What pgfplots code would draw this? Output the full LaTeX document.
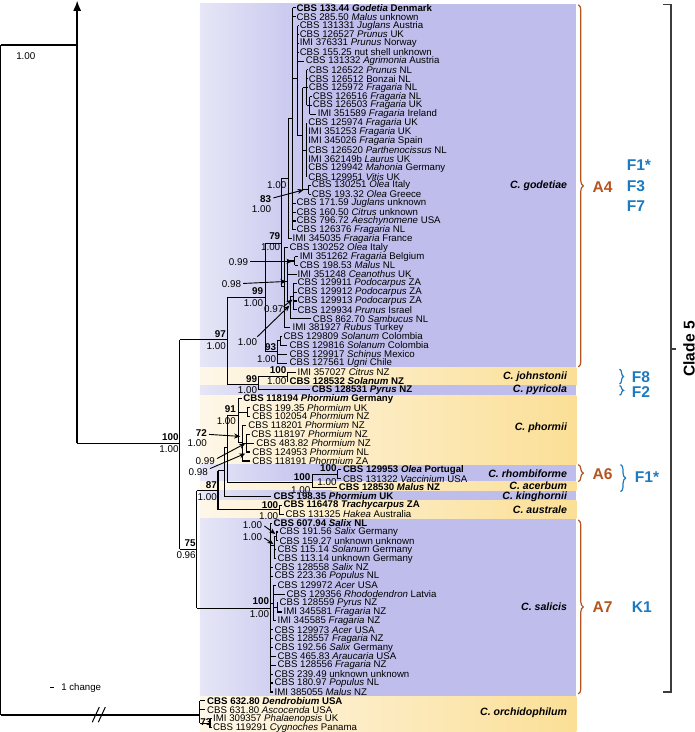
\documentclass[border=0pt]{standalone}
\usepackage{fontspec}
\setmainfont{Liberation Sans}
\usepackage{pgfplots}
\pgfplotsset{compat=1.18}
\usetikzlibrary{arrows.meta,decorations.pathreplacing}
\definecolor{pl}{RGB}{230,230,247}
\definecolor{pr}{RGB}{190,189,236}
\definecolor{yl}{RGB}{254,247,232}
\definecolor{yr}{RGB}{251,223,150}
\definecolor{brn}{RGB}{180,84,30}
\definecolor{blu}{RGB}{30,122,192}
\definecolor{clk}{RGB}{60,60,60}
\tikzset{
 taxon/.style={anchor=west,inner sep=0pt,font=\fontsize{9.6}{10}\selectfont},
 supb/.style={anchor=east,inner sep=0pt,font=\fontsize{9.8}{10}\selectfont\bfseries},
 supp/.style={anchor=east,inner sep=0pt,font=\fontsize{9.8}{10}\selectfont},
 spec/.style={anchor=east,inner sep=0pt,font=\fontsize{10.5}{11}\selectfont\bfseries\itshape},
 arr/.style={-{Stealth[length=6pt,width=5pt]},line width=0.9pt},
 bigl/.style={anchor=west,inner sep=0pt,font=\fontsize{15.5}{16}\selectfont\bfseries},
}
\pgfplotsset{tree/.style={black,line width=1.1pt,no marks,forget plot},
 treeb/.style={black,line width=1.4pt,no marks,forget plot}}
\newcommand{\vb}[3]{\addplot[tree] coordinates {(#1,#2) (#1,#3)};}
\newcommand{\hb}[3]{\addplot[tree] coordinates {(#1,#3) (#2,#3)};}
\newcommand{\tx}[3]{\node[taxon] at (axis cs:#1,#2) {#3};}
\newcommand{\bs}[5]{\node[supb] at (axis cs:#1,#2) {#4};\node[supp] at (axis cs:#1,#3) {#5};}
\newcommand{\bandP}[2]{\fill[left color=pl,right color=pr] (axis cs:200,#1) rectangle (axis cs:331,#2);
 \fill[pr] (axis cs:330,#1) rectangle (axis cs:574,#2);}
\newcommand{\bandY}[2]{\fill[left color=yl,right color=yr] (axis cs:200,#1) rectangle (axis cs:574,#2);}
\begin{document}
\begin{tikzpicture}
\begin{axis}[width=704pt,height=732pt,scale only axis,hide axis,clip=false,
 xmin=0,xmax=704,ymin=0,ymax=732,y dir=reverse]
% background bands
\bandP{4}{366}
\bandY{366}{383}
\bandP{383}{393}
\bandY{393}{462}
\bandP{462}{479}
\bandY{479}{488}
\bandP{488}{498}
\bandY{498}{516}
\bandP{516}{692}
\bandY{692}{727}
% root
\addplot[treeb] coordinates {(2,45) (2,711)};
\addplot[treeb] coordinates {(2,45) (78,45)};
\addplot[treeb,-{Latex[length=10pt,width=8pt]}] coordinates {(78,441) (78,1)};
\addplot[treeb] coordinates {(78,441) (180,441)};
\addplot[treeb] coordinates {(2,711) (200,711)};
\draw[line width=1pt] (93,718) -- (100,703);
\draw[line width=1pt] (99,718) -- (106,703);
% clade 5
\vb{180}{338}{546}
\hb{180}{227}{338}
\vb{227}{296}{382}
\hb{227}{265}{296}
\vb{265}{242}{350}
\hb{265}{281}{242}
\vb{281}{178}{285}
\hb{281}{288}{178}
\vb{288}{118}{237.6}
\hb{288}{292}{118}
\vb{292}{8}{228.8}
\hb{292}{295}{8} \hb{292}{295}{16.8}
\hb{292}{295}{202.3} \hb{292}{295}{211.1} \hb{292}{295}{219.9} \hb{292}{295}{228.8}
\hb{292}{297}{78} \vb{297}{25.7}{135}
\hb{297}{298}{25.7} \hb{297}{298}{34.5} \hb{297}{298}{43.3} \hb{297}{298}{52.2}
\hb{297}{303}{61}
\hb{297}{302}{135} \vb{302}{87.5}{189}
\hb{302}{306}{87.5} \vb{306}{69.8}{105.1}
\hb{306}{307}{69.8} \hb{306}{307}{78.6} \hb{306}{307}{87.5}
\hb{306}{309}{105.1} \vb{309}{96.3}{114}
\hb{309}{311}{96.3} \hb{309}{311}{105.1} \hb{309}{315}{114}
\hb{302}{306}{150} \vb{306}{122.8}{175.8}
\hb{302}{308}{189} \vb{308}{184.6}{193.4} \hb{308}{310}{184.6} \hb{308}{310}{193.4}
\hb{288}{291}{237.6}
\hb{281}{284}{285} \vb{284}{246.4}{325.9}
\hb{284}{288}{246.4}
\hb{284}{287}{280} \vb{287}{259.7}{300}
\hb{287}{294}{259.7} \vb{294}{255.3}{264.1} \hb{294}{297}{255.3} \hb{294}{297}{264.1}
\hb{287}{296}{272.9}
\hb{287}{290}{300} \vb{290}{295}{317.1}
\hb{290}{293}{295} \vb{293}{281.8}{308.2}
\hb{293}{296}{281.8} \hb{293}{296}{290.6} \hb{293}{296}{299.4} \hb{293}{296}{308.2}
\hb{290}{310}{317.1}
\hb{284}{290}{325.9}
\hb{265}{277}{350} \vb{277}{339}{361.2}
\hb{277}{280}{339} \vb{280}{334.7}{343.6} \hb{280}{282}{334.7} \hb{280}{287}{343.6}
\hb{277}{287}{352.4} \hb{277}{287}{361.2}
\hb{227}{258}{382} \vb{258}{374.5}{387.7}
\hb{258}{287}{374.5} \vb{287}{370.1}{378.9} \hb{287}{295}{370.1} \hb{287}{288}{378.9}
\hb{258}{309}{387.7}
\hb{180}{197}{546} \vb{197}{488}{605}
\hb{197}{218}{488} \vb{218}{468}{507}
\hb{218}{224}{468} \vb{224}{445}{493.7}
\hb{224}{227}{445} \vb{227}{413}{480}
\hb{227}{238}{413} \vb{238}{396.5}{440}
\hb{238}{242}{396.5}
\hb{238}{247}{409.8} \vb{247}{405.4}{414.2} \hb{247}{250}{405.4} \hb{247}{250}{414.2}
\hb{238}{242}{440} \vb{242}{423}{458.4}
\hb{242}{246}{423}
\hb{242}{246}{440.7} \vb{246}{431.9}{449.5} \hb{246}{250}{431.9} \hb{246}{254}{440.7} \hb{246}{250}{449.5}
\hb{242}{250}{458.4}
\hb{227}{312}{480} \vb{312}{471.6}{484.8}
\hb{312}{337}{471.6} \vb{337}{467.2}{476} \hb{337}{340}{467.2} \hb{337}{340}{476}
\hb{312}{336}{484.8}
\hb{224}{271}{493.7}
\hb{218}{279}{507} \vb{279}{502.5}{511.3} \hb{279}{282}{502.5} \hb{279}{284}{511.3}
\hb{197}{270}{605} \vb{270}{520.2}{688}
\hb{270}{272}{520.2}
\hb{270}{274}{542} \vb{274}{533.4}{555.5}
\hb{274}{276}{533.4} \vb{276}{529}{537.8} \hb{276}{278}{529} \hb{276}{278}{537.8}
\hb{274}{276}{546.7} \hb{274}{276}{555.5}
\hb{270}{273}{564.3} \hb{270}{273}{573.2}
\hb{270}{273}{600} \vb{273}{582}{617.3}
\hb{273}{276}{582} \hb{273}{285}{590.8}
\hb{273}{277}{604} \vb{277}{599.6}{608.5} \hb{277}{278}{599.6} \hb{277}{282}{608.5}
\hb{273}{276}{617.3}
\hb{270}{273}{626.1} \hb{270}{273}{635} \hb{270}{273}{643.8}
\hb{270}{276}{652.6} \hb{270}{276}{661.5}
\hb{270}{273}{670.3} \hb{270}{273}{679.1} \hb{270}{273}{688}
% orchidophilum
\vb{200}{696.8}{718.9} \hb{200}{205}{696.8} \hb{200}{205}{705.6} \hb{200}{210}{718.9}
\vb{210}{714.4}{723.3} \hb{210}{212}{714.4} \hb{210}{212}{723.3}
% taxa
\tx{296}{8}{\textbf{CBS 133.44 \textit{Godetia} Denmark}}
\tx{296}{16.8}{CBS 285.50 \textit{Malus} unknown}
\tx{299}{25.7}{CBS 131331 \textit{Juglans} Austria}
\tx{299}{34.5}{CBS 126527 \textit{Prunus} UK}
\tx{299}{43.3}{IMI 376331 \textit{Prunus} Norway}
\tx{299}{52.2}{CBS 155.25 nut shell unknown}
\tx{305}{61}{CBS 131332 \textit{Agrimonia} Austria}
\tx{308}{69.8}{CBS 126522 \textit{Prunus} NL}
\tx{308}{78.6}{CBS 126512 Bonzai NL}
\tx{308}{87.5}{CBS 125972 \textit{Fragaria} NL}
\tx{312}{96.3}{CBS 126516 \textit{Fragaria} NL}
\tx{312}{105.1}{CBS 126503 \textit{Fragaria} UK}
\tx{317}{114}{IMI 351589 \textit{Fragaria} Ireland}
\tx{307.5}{122.8}{CBS 125974 \textit{Fragaria} UK}
\tx{307.5}{131.6}{IMI 351253 \textit{Fragaria} UK}
\tx{307.5}{140.5}{IMI 345026 \textit{Fragaria} Spain}
\tx{307.5}{149.3}{CBS 126520 \textit{Parthenocissus} NL}
\tx{307.5}{158.1}{IMI 362149b \textit{Laurus} UK}
\tx{307.5}{167}{CBS 129942 \textit{Mahonia} Germany}
\tx{307.5}{175.8}{CBS 129951 \textit{Vitis} UK}
\tx{311}{184.6}{CBS 130251 \textit{Olea} Italy}
\tx{311}{193.4}{CBS 193.32 \textit{Olea} Greece}
\tx{296}{202.3}{CBS 171.59 \textit{Juglans} unknown}
\tx{296}{211.1}{CBS 160.50 \textit{Citrus} unknown}
\tx{296}{219.9}{CBS 796.72 \textit{Aeschynomene} USA}
\tx{296}{228.8}{CBS 126376 \textit{Fragaria} NL}
\tx{292}{237.6}{IMI 345035 \textit{Fragaria} France}
\tx{289}{246.4}{CBS 130252 \textit{Olea} Italy}
\tx{299}{255.3}{IMI 351262 \textit{Fragaria} Belgium}
\tx{299}{264.1}{CBS 198.53 \textit{Malus} NL}
\tx{297}{272.9}{IMI 351248 \textit{Ceanothus} UK}
\tx{297}{281.8}{CBS 129911 \textit{Podocarpus} ZA}
\tx{297}{290.6}{CBS 129912 \textit{Podocarpus} ZA}
\tx{297}{299.4}{CBS 129913 \textit{Podocarpus} ZA}
\tx{297}{308.2}{CBS 129934 \textit{Prunus} Israel}
\tx{312}{317.1}{CBS 862.70 \textit{Sambucus} NL}
\tx{292}{325.9}{IMI 381927 \textit{Rubus} Turkey}
\tx{283}{334.7}{CBS 129809 \textit{Solanum} Colombia}
\tx{289}{343.6}{CBS 129816 \textit{Solanum} Colombia}
\tx{289}{352.4}{CBS 129917 \textit{Schinus} Mexico}
\tx{289}{361.2}{CBS 127561 \textit{Ugni} Chile}
\tx{297}{370.1}{IMI 357027 \textit{Citrus} NZ}
\tx{289}{378.9}{\textbf{CBS 128532 \textit{Solanum} NZ}}
\tx{311}{387.7}{\textbf{CBS 128531 \textit{Pyrus} NZ}}
\tx{243}{396.5}{\textbf{CBS 118194 \textit{Phormium} Germany}}
\tx{252}{405.4}{CBS 199.35 \textit{Phormium} UK}
\tx{252}{414.2}{CBS 102054 \textit{Phormium} NZ}
\tx{248}{423}{CBS 118201 \textit{Phormium} NZ}
\tx{251}{431.9}{CBS 118197 \textit{Phormium} NZ}
\tx{256}{440.7}{CBS 483.82 \textit{Phormium} NZ}
\tx{252}{449.5}{CBS 124953 \textit{Phormium} NL}
\tx{252}{458.4}{CBS 118191 \textit{Phormium} ZA}
\tx{342}{467.2}{\textbf{CBS 129953 \textit{Olea} Portugal}}
\tx{342}{476}{CBS 131322 \textit{Vaccinium} USA}
\tx{338}{484.8}{\textbf{CBS 128530 \textit{Malus} NZ}}
\tx{273}{493.7}{\textbf{CBS 198.35 \textit{Phormium} UK}}
\tx{283}{502.5}{\textbf{CBS 116478 \textit{Trachycarpus} ZA}}
\tx{285}{511.3}{CBS 131325 \textit{Hakea} Australia}
\tx{273}{520.2}{\textbf{CBS 607.94 \textit{Salix} NL}}
\tx{279}{529}{CBS 191.56 \textit{Salix} Germany}
\tx{279}{537.8}{CBS 159.27 unknown unknown}
\tx{277}{546.7}{CBS 115.14 \textit{Solanum} Germany}
\tx{277}{555.5}{CBS 113.14 unknown Germany}
\tx{274}{564.3}{CBS 128558 \textit{Salix} NZ}
\tx{274}{573.2}{CBS 223.36 \textit{Populus} NL}
\tx{277}{582}{CBS 129972 \textit{Acer} USA}
\tx{286}{590.8}{CBS 129356 \textit{Rhododendron} Latvia}
\tx{279}{599.6}{CBS 128559 \textit{Pyrus} NZ}
\tx{283}{608.5}{IMI 345581 \textit{Fragaria} NZ}
\tx{277}{617.3}{IMI 345585 \textit{Fragaria} NZ}
\tx{274}{626.1}{CBS 129973 \textit{Acer} USA}
\tx{274}{635}{CBS 128557 \textit{Fragaria} NZ}
\tx{274}{643.8}{CBS 192.56 \textit{Salix} Germany}
\tx{277}{652.6}{CBS 465.83 \textit{Araucaria} USA}
\tx{277}{661.5}{CBS 128556 \textit{Fragaria} NZ}
\tx{274}{670.3}{CBS 239.49 unknown unknown}
\tx{274}{679.1}{CBS 180.97 \textit{Populus} NL}
\tx{274}{688}{IMI 385055 \textit{Malus} NZ}
\tx{207}{696.8}{\textbf{CBS 632.80 \textit{Dendrobium} USA}}
\tx{207}{705.6}{CBS 631.80 \textit{Ascocenda} USA}
\tx{213}{714.4}{IMI 309357 \textit{Phalaenopsis} UK}
\tx{213}{723.3}{CBS 119291 \textit{Cygnoches} Panama}
% support values
\node[supp,anchor=center] at (axis cs:27,56) {1.00};
\bs{179}{435}{447}{100}{1.00}
\bs{226}{332}{344}{97}{1.00}
\bs{263}{290}{302}{99}{1.00}
\bs{280}{235}{246}{79}{1.00}
\node[supp] at (axis cs:286,184) {1.00};
\bs{271}{198}{208}{83}{1.00}
\draw[arr] (273,197) -- (303,189);
\bs{276}{345}{357}{93}{1.00}
\bs{257}{377}{388}{99}{1.00}
\bs{286}{368}{379}{100}{1.00}
\node[supp] at (axis cs:248,261) {0.99};
\draw[arr] (250,260) -- (292,260);
\node[supp] at (axis cs:241,283) {0.98};
\draw[arr] (243,282) -- (286,280);
\node[supp] at (axis cs:257,340) {1.00};
\draw[arr] (257,335) -- (289,304);
\node[supp] at (axis cs:283,307) {0.97};
\draw[arr] (283,305) -- (292,298);
\bs{236}{407}{419}{91}{1.00}
\bs{207}{431}{441}{72}{1.00}
\draw[arr] (209,432) -- (240,434);
\node[supp] at (axis cs:215,459) {0.99};
\draw[arr] (217,456) -- (245,441);
\node[supp] at (axis cs:208,469) {0.98};
\draw[arr] (210,466) -- (245,451);
\bs{217}{482}{494}{87}{1.00}
\bs{310}{474}{487}{100}{1.00}
\bs{336}{466}{479}{100}{1.00}
\bs{278}{502}{513}{100}{1.00}
\bs{196}{540}{552}{75}{0.96}
\bs{269}{598}{611}{100}{1.00}
\node[supp] at (axis cs:262,522) {1.00};
\draw[arr] (264,523) -- (275,531);
\node[supp] at (axis cs:262,534) {1.00};
\draw[arr] (264,535) -- (273,541);
\node[supb,anchor=center] at (axis cs:206,718) {73};
% scale bar
\draw[line width=1pt] (51,684) -- (55,684);
\node[taxon] at (axis cs:62,684) {1 change};
% species names
\node[spec] at (axis cs:565,185) {C. godetiae};
\node[spec] at (axis cs:565,374.5) {C. johnstonii};
\node[spec] at (axis cs:565,388) {C. pyricola};
\node[spec] at (axis cs:565,425) {C. phormii};
\node[spec] at (axis cs:565,471) {C. rhombiforme};
\node[spec] at (axis cs:565,483.5) {C. acerbum};
\node[spec] at (axis cs:565,493.5) {C. kinghornii};
\node[spec] at (axis cs:565,507) {C. australe};
\node[spec] at (axis cs:565,603) {C. salicis};
\node[spec] at (axis cs:565,709) {C. orchidophilum};
% brackets
\draw[brn,line width=1.2pt,decorate,decoration={brace,amplitude=5pt}] (576,5) -- (576,365);
\node[bigl,text=brn] at (axis cs:590,186) {A4};
\draw[brn,line width=1.2pt,decorate,decoration={brace,amplitude=5pt}] (576,462) -- (576,479);
\node[bigl,text=brn] at (axis cs:590,471) {A6};
\draw[brn,line width=1.2pt,decorate,decoration={brace,amplitude=5pt}] (576,517) -- (576,690);
\node[bigl,text=brn] at (axis cs:590,604) {A7};
\node[bigl,text=blu] at (axis cs:624,164) {F1*};
\node[bigl,text=blu] at (axis cs:624,185) {F3};
\node[bigl,text=blu] at (axis cs:624,205) {F7};
\draw[blu,line width=1.2pt,decorate,decoration={brace,amplitude=4pt}] (617,367) -- (617,382);
\node[bigl,text=blu] at (axis cs:629,375) {F8};
\draw[blu,line width=1.2pt,decorate,decoration={brace,amplitude=4pt}] (617,383.5) -- (617,393);
\node[bigl,text=blu] at (axis cs:629,390) {F2};
\draw[blu,line width=1.2pt,decorate,decoration={brace,amplitude=5pt}] (618,462) -- (618,489);
\node[bigl,text=blu] at (axis cs:632,474) {F1*};
\node[bigl,text=blu] at (axis cs:629,604) {K1};
\draw[clk,line width=1.5pt] (660,5) -- (668,5) -- (668,688) -- (660,688);
\draw[clk,line width=1.5pt] (668,347) -- (673,347);
\node[inner sep=0pt,rotate=90,font=\fontsize{15.5}{16}\selectfont\bfseries] at (axis cs:686,347) {Clade 5};
\end{axis}
\end{tikzpicture}
\end{document}
